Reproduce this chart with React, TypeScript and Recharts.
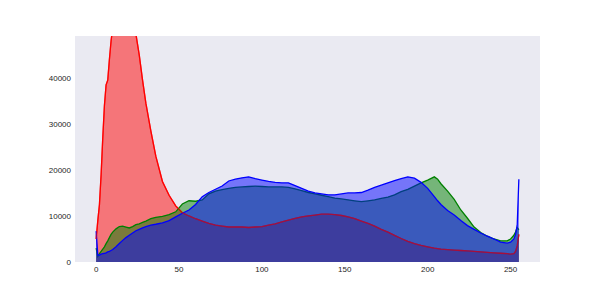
import { ComposedChart, Area, Line, XAxis, YAxis, CartesianGrid } from "recharts";

// pixel value (0-255) sampled at these positions
const levels = [
  0, 1, 2, 3, 4, 5, 6, 7, 8, 9, 10, 12, 14, 16, 18, 20, 22, 24, 26, 28, 30, 33, 36,
  40, 44, 48, 52, 56, 60, 64, 68, 72, 76, 80, 84, 88, 92, 96, 100, 104, 108, 112, 116,
  120, 124, 128, 132, 136, 140, 144, 148, 152, 156, 160, 164, 168, 172, 176, 180, 184,
  188, 192, 196, 200, 204, 206, 208, 212, 216, 220, 224, 228, 232, 236, 240, 244, 248,
  250, 252, 253, 254, 255,
];

const redCounts = [
  5000, 9000, 12500, 19000, 27000, 34000, 38500, 39500, 44000, 48000, 51000,
  55000, 57500, 58500, 58000, 57000, 54000, 49500, 45000, 39500, 34500,
  28500, 23000,
  17500, 14500, 12200, 10700, 10000, 9400, 8900, 8400, 8000, 7800, 7600, 7600, 7600, 7500,
  7600, 7700, 8000, 8300, 8700, 9100, 9500, 9800, 10000, 10200, 10400, 10400, 10300, 10100,
  9800, 9400, 8900, 8400, 7800, 7100, 6500, 5800, 5100, 4500, 4000, 3600, 3300, 3000,
  2900,
  2800, 2700, 2600, 2500, 2400, 2300, 2200, 2100, 2000, 1900, 1800,
  1700, 1800, 2300, 3500, 6000,
];

const greenCounts = [
  3000, 1200, 1800, 2300, 2800, 3300, 4000, 4600, 5300, 6000, 6500,
  7200, 7700, 7800, 7600, 7400, 7700, 8100, 8300, 8600, 8900,
  9400, 9700,
  9900, 10300, 10900, 12600, 13300, 13200, 13500, 14800, 15400, 15700, 16000, 16200, 16300,
  16400, 16500, 16400, 16300, 16300, 16300, 16200, 15900, 15500, 15100, 14800, 14500, 14200,
  13900, 13700, 13500, 13300, 13100, 13300, 13500, 13800, 14100, 14600, 15300, 15800, 16500,
  17200, 17800, 18500,
  18000,
  17000, 15400, 13600, 11300, 9500, 7600, 6400, 5600, 5000, 4600, 4600,
  5000, 5800, 6500, 7500, 7000,
];

const blueCounts = [
  6700, 1500, 1500, 1700, 1800, 1900, 2000, 2200, 2300, 2500, 2700,
  3300, 4000, 4700, 5300, 5800, 6300, 6800, 7100, 7400, 7700,
  8000, 8200,
  8500, 9000, 9800, 10600, 11300, 12500, 14200, 15100, 15800, 16500, 17600, 18000, 18300,
  18500, 18100, 17800, 17500, 17300, 17200, 17200, 16600, 16000, 15400, 15000, 14800, 14600,
  14600, 14800, 15000, 15000, 15100, 15600, 16200, 16700, 17200, 17700, 18100, 18500, 18200,
  17300, 16000, 14200,
  13300,
  12500, 11200, 10200, 9000, 7900, 7100, 6300, 5600, 5000, 4300, 4100,
  4300, 5000, 6000, 8000, 18000,
];

const xTicks = [0, 50, 100, 150, 200, 250];
const yTicks = [0, 10000, 20000, 30000, 40000];

const data = levels.map((x, i) => ({
  x,
  r: redCounts[i],
  g: greenCounts[i],
  b: blueCounts[i],
}));

const tickStyle = { fontSize: 8, fill: "#262626", fontFamily: "Liberation Sans, Arial, sans-serif" };

export default function App() {
  return (
    <div style={{ position: "absolute", left: 0, top: 0, width: 600, height: 300, background: "#fff" }}>
      <ComposedChart width={600} height={300} data={data} margin={{ top: 36, right: 60, left: 0, bottom: 0 }}>
        <CartesianGrid fill="#EAEAF2" stroke="none" horizontal={false} vertical={false} />
        <XAxis
          dataKey="x"
          type="number"
          domain={[-12.75, 267.75]}
          ticks={xTicks}
          allowDataOverflow
          axisLine={false}
          tickLine={false}
          tickSize={0}
          tickMargin={4}
          height={38}
          tick={tickStyle}
        />
        <YAxis
          type="number"
          domain={[0, 49100]}
          ticks={yTicks}
          allowDataOverflow
          axisLine={false}
          tickLine={false}
          tickSize={0}
          tickMargin={4}
          width={75}
          tick={tickStyle}
        />
        <Area type="linear" dataKey="r" stroke="#ff0000" strokeWidth={1.3} fill="#ff0000" fillOpacity={0.5} dot={false} isAnimationActive={false} />
        <Area type="linear" dataKey="g" stroke="#008000" strokeWidth={1.3} fill="#008000" fillOpacity={0.5} dot={false} isAnimationActive={false} />
        <Area type="linear" dataKey="b" stroke="#0000ff" strokeWidth={1.3} fill="#0000ff" fillOpacity={0.5} dot={false} isAnimationActive={false} />
        {/* red outline shows through the blue fill in the original */}
        <Line type="linear" dataKey="r" stroke="#ff0000" strokeWidth={1.3} strokeOpacity={0.55} dot={false} activeDot={false} isAnimationActive={false} />
      </ComposedChart>
    </div>
  );
}
